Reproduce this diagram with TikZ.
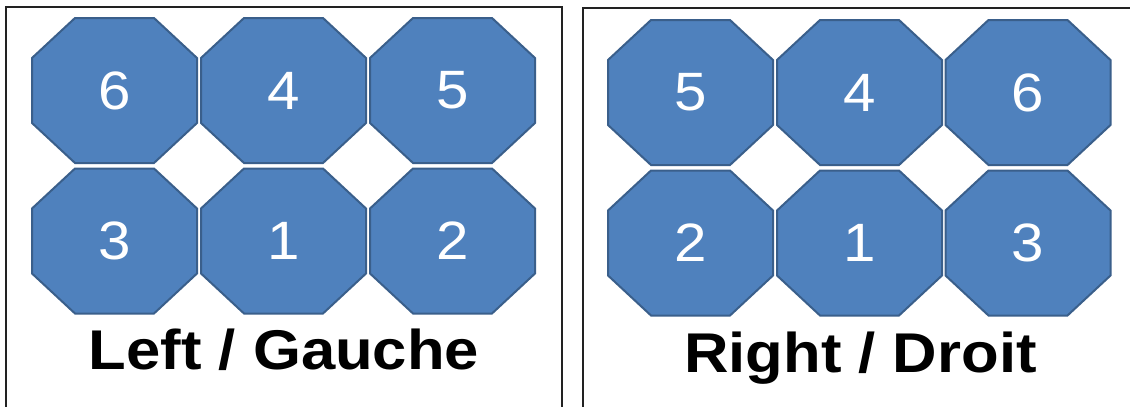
\documentclass[tikz,border=0pt]{standalone}
\usepackage{fontspec}
\setmainfont{Liberation Sans}
\definecolor{octfill}{HTML}{4F81BD}
\definecolor{octline}{HTML}{3A5F8B}
\definecolor{frameline}{HTML}{222222}
\tikzset{
  octshape/.style={fill=octfill, draw=octline, line width=2pt, line join=miter},
  octlabel/.style={text=white, inner sep=0pt, font=\fontsize{54}{54}\selectfont, xscale=1.08},
  framestyle/.style={draw=frameline, line width=2pt},
  titlestyle/.style={anchor=base, inner sep=0pt, font=\bfseries\fontsize{56}{56}\selectfont, xscale=1.1}
}
\newcommand\octagonnode[4]{%
  \draw[octshape, shift={(#2,#3)}] (-82.5,-32.5) -- (-39.5,-72.5) -- (39.5,-72.5) -- (82.5,-32.5)
     -- (82.5,32.5) -- (39.5,72.5) -- (-39.5,72.5) -- (-82.5,32.5) -- cycle;
  \node[octlabel] (#1) at (#2,#3) {#4};
}
\begin{document}
\begin{tikzpicture}[x=1pt,y=-1pt]
\useasboundingbox[fill=white] (0,0) rectangle (1130,407);
% frames
\draw[framestyle] (6,407) -- (6,7) -- (562,7) -- (562,407);
\draw[framestyle] (583,407) -- (583,8) -- (1130,8);
% left panel
\octagonnode{L6}{114.5}{90.5}{6}
\octagonnode{L4}{283.5}{90.5}{4}
\octagonnode{L5}{452.5}{90.5}{5}
\octagonnode{L3}{114.5}{241}{3}
\octagonnode{L1}{283.5}{241}{1}
\octagonnode{L2}{452.5}{241}{2}
\node[titlestyle] (lefttitle) at (284,369) {Left / Gauche};
% right panel
\octagonnode{R5}{690.5}{92.5}{5}
\octagonnode{R4}{859.5}{92.5}{4}
\octagonnode{R6}{1028}{92.5}{6}
\octagonnode{R2}{690.5}{243}{2}
\octagonnode{R1}{859.5}{243}{1}
\octagonnode{R3}{1028}{243}{3}
\node[titlestyle] (righttitle) at (860.5,372) {Right / Droit};
\end{tikzpicture}
\end{document}
